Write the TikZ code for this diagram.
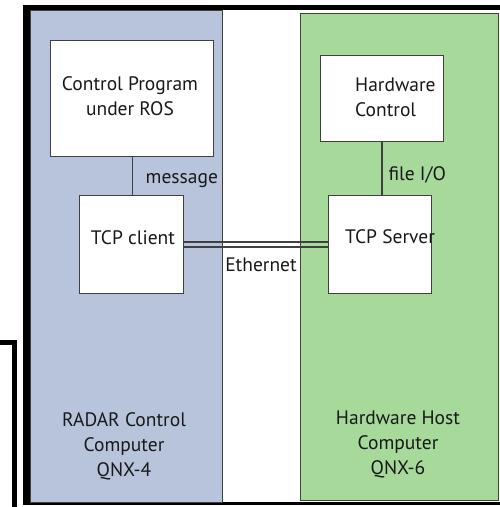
\documentclass[tikz,border=0pt]{standalone}
\usepackage{fontspec}
\setmainfont{PT Sans}
\begin{document}
\begin{tikzpicture}[x=1pt,y=-1pt,
  panel/.style={draw=black!75,line width=1pt},
  box/.style={draw=black!75,fill=white,line width=1.2pt},
  lbl/.style={font=\fontsize{19.5}{25}\selectfont,text=black!90,inner sep=0pt},
  link/.style={draw=black!75,line width=1.2pt}]
\useasboundingbox (0,0) rectangle (500,507);
% outer frame
\fill[black] (23,5) rectangle (500,10);
\fill[black] (23,5) rectangle (30,505);
\fill[black] (23,502) rectangle (500,505);
% bottom-left L
\fill[black] (0,340) rectangle (17,345);
\fill[black] (12,340) rectangle (17,507);
% panels
\path[panel,fill={rgb,255:red,184;green,196;blue,220}] (30,10) rectangle (222,502);
\path[panel,fill={rgb,255:red,167;green,217;blue,155}] (300,13) rectangle (498,500);
% boxes
\node[box,minimum width=163pt,minimum height=116pt,anchor=north west] (cp) at (50,40) {};
\node[lbl,align=center] at (130,96) {Control Program\\under ROS};
\node[box,minimum width=104pt,minimum height=98pt,anchor=north west] (tc) at (79,195) {};
\node[lbl] at (133,238) {TCP client};
\node[box,minimum width=123pt,minimum height=86pt,anchor=north west] (hc) at (320,55) {};
\node[lbl,align=left,anchor=west] at (355,97) {Hardware\\Control};
\node[box,minimum width=103pt,minimum height=98pt,anchor=north west] (ts) at (328,195) {};
\node[lbl,anchor=west] at (345,237) {TCP Server};
% connectors
\draw[link] (cp.south) -- (cp.south |- tc.north) node[midway,right=13pt,yshift=-4pt,lbl] {message};
\draw[link] (hc.south -| 382,0) -- (382,195) node[midway,right=6pt,yshift=-6pt,lbl] {file I/O};
\coordinate (e1a) at (tc.east |- 0,242);
\coordinate (e1b) at (ts.west |- 0,242);
\coordinate (e2a) at (tc.east |- 0,247);
\coordinate (e2b) at (ts.west |- 0,247);
\draw[link] (e1a) -- (e1b);
\draw[link] (e2a) -- (e2b);
\node[lbl] (eth) at (261,265) {Ethernet};
% captions
\node[lbl,align=center] at (124,446) {RADAR Control\\Computer\\QNX-4};
\node[lbl,align=center] at (398,444) {Hardware Host\\Computer\\QNX-6};
\end{tikzpicture}
\end{document}
